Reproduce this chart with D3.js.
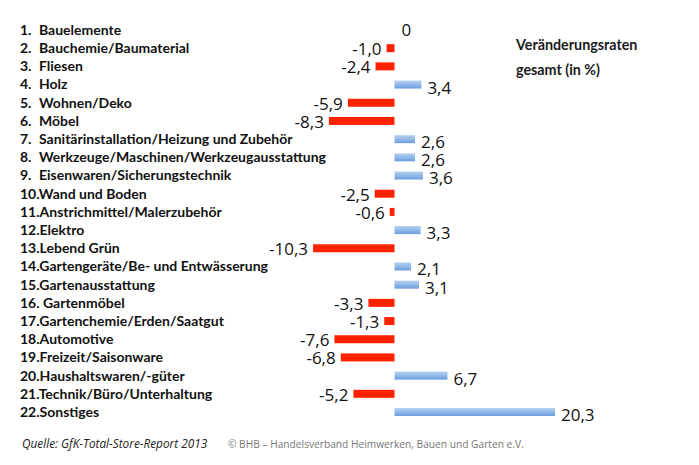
<!DOCTYPE html>
<html>
<head>
<meta charset="utf-8">
<script src="https://d3js.org/d3.v7.min.js"></script>
<style>
  body { margin: 0; background: #fff; }
  text { white-space: pre; }
</style>
</head>
<body>
<script>
// categories and change rates (%)
var categories = [
  "Bauelemente", "Bauchemie/Baumaterial", "Fliesen", "Holz", "Wohnen/Deko", "Möbel",
  "Sanitärinstallation/Heizung und Zubehör", "Werkzeuge/Maschinen/Werkzeugausstattung",
  "Eisenwaren/Sicherungstechnik", "Wand und Boden", "Anstrichmittel/Malerzubehör",
  "Elektro", "Lebend Grün", "Gartengeräte/Be- und Entwässerung", "Gartenausstattung",
  " Gartenmöbel", "Gartenchemie/Erden/Saatgut", "Automotive", "Freizeit/Saisonware",
  "Haushaltswaren/-güter", "Technik/Büro/Unterhaltung", "Sonstiges"
];
var values = [0, -1.0, -2.4, 3.4, -5.9, -8.3, 2.6, 2.6, 3.6, -2.5, -0.6, 3.3, -10.3,
  2.1, 3.1, -3.3, -1.3, -7.6, -6.8, 6.7, -5.2, 20.3];
var titleLines = ["Veränderungsraten", "gesamt (in %)"];
var source = "Quelle: GfK-Total-Store-Report 2013";
var copyright = "© BHB – Handelsverband Heimwerken, Bauen und Garten e.V.";

var width = 699, height = 465;
var svg = d3.select("body").append("svg")
    .attr("width", width)
    .attr("height", height);

var x = d3.scaleLinear().domain([0, 20.3]).range([394.5, 555]);
// row centres
var y = d3.scalePoint()
    .domain(d3.range(categories.length))
    .range([30, 412]);
var barH = 8;

var defs = svg.append("defs");
var grad = defs.append("linearGradient")
    .attr("id", "blueGrad").attr("x1", 0).attr("y1", 0).attr("x2", 0).attr("y2", 1);
grad.append("stop").attr("offset", "0%").attr("stop-color", "#b5d0f0");
grad.append("stop").attr("offset", "60%").attr("stop-color", "#8ab4e6");
grad.append("stop").attr("offset", "100%").attr("stop-color", "#6b9bd8");

var fmt = function(v) { return v === 0 ? "0" : d3.format(".1f")(v).replace(".", ",").replace("−", "-"); };

// category labels
var lab = svg.append("g")
    .attr("font-family", "Lato, 'Open Sans', sans-serif")
    .attr("font-weight", "bold")
    .attr("font-size", 14)
    .attr("fill", "#111");

categories.forEach(function(c, i) {
  var cy = y(i);
  if (i < 9) {
    lab.append("text").attr("x", 20).attr("y", cy).attr("dy", "0.35em").text((i + 1) + ".");
    lab.append("text").attr("x", 39).attr("y", cy).attr("dy", "0.35em").text(c);
  } else {
    lab.append("text").attr("x", 20).attr("y", cy).attr("dy", "0.35em").text((i + 1) + "." + c);
  }
});

// bars
svg.append("g").selectAll("rect")
  .data(values.map(function(v, i) { return {v: v, i: i}; }).filter(function(d) { return d.v !== 0; }))
  .join("rect")
    .attr("x", function(d) { return x(Math.min(0, d.v)); })
    .attr("y", function(d) { return y(d.i) - barH / 2; })
    .attr("width", function(d) { return Math.abs(x(d.v) - x(0)); })
    .attr("height", barH)
    .attr("fill", function(d) { return d.v < 0 ? "#ff2200" : "url(#blueGrad)"; });

// value labels
svg.append("g")
    .attr("font-family", "'Open Sans', sans-serif")
    .attr("font-size", 17)
    .attr("fill", "#111")
  .selectAll("text")
  .data(values)
  .join("text")
    .attr("x", function(v) { return v < 0 ? x(v) - 5 : v === 0 ? x(0) + 7 : x(v) + 6; })
    .attr("y", function(v, i) { return y(i) + (v === 0 ? 0 : v < 0 ? 1 : 3); })
    .attr("dy", "0.35em")
    .attr("text-anchor", function(v) { return v < 0 ? "end" : "start"; })
    .text(fmt);

// title
svg.append("g")
    .attr("font-family", "Lato, 'Open Sans', sans-serif")
    .attr("font-weight", "bold")
    .attr("font-size", 14.3)
    .attr("fill", "#1a1a1a")
  .selectAll("text")
  .data(titleLines)
  .join("text")
    .attr("x", 516)
    .attr("y", function(d, i) { return 50 + i * 25; })
    .text(function(d) { return d; });

// footer
svg.append("text")
    .attr("x", 22).attr("y", 448)
    .attr("font-family", "'Open Sans', sans-serif")
    .attr("font-style", "italic")
    .attr("font-size", 11.8)
    .attr("fill", "#222")
    .text(source);
svg.append("text")
    .attr("x", 228).attr("y", 448)
    .attr("font-family", "'Open Sans', sans-serif")
    .attr("font-size", 10.2)
    .attr("fill", "#777")
    .text(copyright);
</script>
</body>
</html>
